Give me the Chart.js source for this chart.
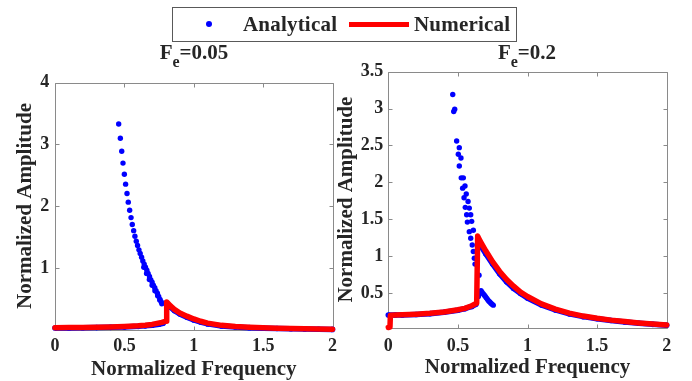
<!DOCTYPE html>
<html>
<head>
<meta charset="utf-8">
<script src="https://cdn.jsdelivr.net/npm/chart.js@4/dist/chart.umd.min.js"></script>
<style>
  body { margin: 0; background: #fff; }
  #wrap { position: relative; width: 692px; height: 381px; overflow: hidden;
          font-family: "Liberation Serif", "Times New Roman", serif; font-weight: bold; color: #262626; }
  canvas { position: absolute; top: 0; }
  .ttl { position: absolute; top: 42px; font-size: 21px; line-height: 21px; white-space: nowrap; transform: translateX(-50%); }
  .ttl sub { font-size: 16px; line-height: 0; vertical-align: -8px; }
  #legend { position: absolute; left: 172px; top: 7px; width: 343px; height: 33px; border: 1px solid #595959; background: #fff; }
  #legend span { position: absolute; }
  .lg-txt { top: 6px; font-size: 21px; line-height: 21px; white-space: nowrap; letter-spacing: 0.2px; }
</style>
</head>
<body>
<div id="wrap">
  <canvas id="chart-f05" width="346" height="381" style="left:0"></canvas>
  <canvas id="chart-f2" width="362" height="381" style="left:330px"></canvas>
  <div class="ttl" style="left:194px">F<sub>e</sub>=0.05</div>
  <div class="ttl" style="left:527px">F<sub>e</sub>=0.2</div>
  <div id="legend">
    <span style="left:33px;top:13px;width:6px;height:6px;border-radius:50%;background:#0000ff"></span>
    <span class="lg-txt" style="left:70px">Analytical</span>
    <span style="left:176px;top:14px;width:60px;height:5px;background:#ff0000"></span>
    <span class="lg-txt" style="left:241px">Numerical</span>
  </div>
</div>
<script>
// tick labels
const freqTicks = [0, 0.5, 1, 1.5, 2];
const ampTicksF05 = [1, 2, 3, 4];
const ampTicksF2 = [0.5, 1, 1.5, 2, 2.5, 3, 3.5];

// Fe = 0.05 : analytical, upper (sparse) branch
const f05DotFreq = [0.459, 0.471, 0.481, 0.490, 0.500, 0.509, 0.519, 0.528, 0.538, 0.548, 0.557, 0.567,
  0.576, 0.586, 0.595, 0.605, 0.614, 0.624, 0.633, 0.643, 0.652, 0.662, 0.671, 0.681, 0.690, 0.700,
  0.709, 0.719, 0.728, 0.738, 0.747, 0.757, 0.766, 0.640, 0.660, 0.680, 0.700, 0.720, 0.740, 0.755, 0.770];
const f05DotAmp = [3.33, 3.10, 2.89, 2.70, 2.52, 2.36, 2.21, 2.07, 1.94, 1.82, 1.71, 1.61,
  1.52, 1.44, 1.37, 1.30, 1.24, 1.18, 1.12, 1.07, 1.02, 0.97, 0.92, 0.87, 0.82, 0.78,
  0.73, 0.69, 0.64, 0.60, 0.55, 0.50, 0.46, 1.02, 0.92, 0.82, 0.73, 0.64, 0.56, 0.49, 0.43];
// Fe = 0.05 : analytical, lower and right branches
const f05LowFreq = [0, 0.1, 0.2, 0.3, 0.4, 0.5, 0.6, 0.65, 0.7, 0.75, 0.78];
const f05LowAmp = [0.04, 0.041, 0.043, 0.046, 0.05, 0.056, 0.066, 0.074, 0.085, 0.1, 0.115];
const f05HighFreq = [0.80, 0.83, 0.86, 0.9, 0.95, 1.0, 1.05, 1.1, 1.2, 1.3, 1.4, 1.5, 1.6, 1.7, 1.8, 1.9, 2.0];
const f05HighAmp = [0.44, 0.38, 0.32, 0.265, 0.215, 0.17, 0.135, 0.105, 0.072, 0.055, 0.045, 0.037, 0.031, 0.026, 0.022, 0.019, 0.017];
// Fe = 0.05 : numerical
const f05NumFreq = [0, 0.1, 0.2, 0.3, 0.4, 0.5, 0.6, 0.65, 0.7, 0.77, 0.80, 0.805, 0.83, 0.86, 0.9, 0.95,
  1.0, 1.05, 1.1, 1.2, 1.3, 1.4, 1.5, 1.6, 1.7, 1.8, 1.9, 2.0];
const f05NumAmp = [0.045, 0.046, 0.049, 0.052, 0.057, 0.064, 0.075, 0.084, 0.097, 0.13, 0.15, 0.46, 0.40, 0.34, 0.28, 0.23,
  0.185, 0.148, 0.118, 0.082, 0.062, 0.05, 0.042, 0.035, 0.03, 0.026, 0.022, 0.019];

// Fe = 0.2 : analytical, upper (sparse) branch and small caret branch
const f2DotFreq = [0.463, 0.477, 0.470, 0.491, 0.510, 0.503, 0.522, 0.510, 0.524, 0.539, 0.551, 0.534,
  0.560, 0.544, 0.573, 0.553, 0.582, 0.563, 0.592, 0.568, 0.599, 0.611, 0.582, 0.592, 0.603, 0.611,
  0.618, 0.623, 0.652,
  0.647, 0.653, 0.659, 0.666, 0.673, 0.681, 0.689, 0.697, 0.705, 0.713, 0.721, 0.729, 0.737, 0.745, 0.754];
const f2DotAmp = [3.19, 2.99, 2.96, 2.56, 2.47, 2.38, 2.33, 2.22, 2.06, 2.06, 1.95, 1.92,
  1.84, 1.79, 1.74, 1.66, 1.65, 1.56, 1.56, 1.46, 1.47, 1.35, 1.33, 1.24, 1.15, 1.06,
  0.97, 0.89, 0.74,
  0.45, 0.48, 0.51, 0.53, 0.51, 0.49, 0.47, 0.45, 0.43, 0.41, 0.39, 0.375, 0.36, 0.345, 0.333];
// Fe = 0.2 : analytical, lower and right branches
const f2LowFreq = [0, 0.05, 0.1, 0.2, 0.3, 0.4, 0.5, 0.55, 0.6, 0.63];
const f2LowAmp = [0.2, 0.2, 0.2, 0.207, 0.218, 0.236, 0.265, 0.285, 0.315, 0.345];
const f2HighFreq = [0.652, 0.66, 0.7, 0.75, 0.8, 0.85, 0.9, 0.95, 1.0, 1.1, 1.2, 1.3, 1.4, 1.5, 1.6, 1.7, 1.8, 1.9, 2.0];
const f2HighAmp = [1.18, 1.15, 1.03, 0.89, 0.76, 0.65, 0.56, 0.49, 0.43, 0.335, 0.268, 0.215, 0.177, 0.148, 0.124, 0.104, 0.087, 0.073, 0.06];
// Fe = 0.2 : numerical
const f2NumFreq = [0, 0.012, 0.015, 0.05, 0.1, 0.2, 0.3, 0.4, 0.5, 0.55, 0.6, 0.635, 0.642, 0.66, 0.7, 0.75,
  0.8, 0.85, 0.9, 0.95, 1.0, 1.1, 1.2, 1.3, 1.4, 1.5, 1.6, 1.7, 1.8, 1.9, 2.0];
const f2NumAmp = [0.03, 0.035, 0.195, 0.2, 0.202, 0.21, 0.222, 0.24, 0.27, 0.29, 0.325, 0.36, 1.27, 1.2, 1.07, 0.92,
  0.79, 0.68, 0.59, 0.51, 0.45, 0.35, 0.28, 0.225, 0.185, 0.155, 0.13, 0.11, 0.092, 0.077, 0.063];

const BLUE = '#0000ff';
const RED = '#ff0000';
const TEXT = '#262626';
const FONT = '"Liberation Serif", "Times New Roman", serif';

const pts = (xs, ys) => xs.map((x, i) => ({ x, y: ys[i] }));

// MATLAB-like box with inward ticks on all four sides
const boxPlugin = {
  id: 'matlabBox',
  beforeDatasetsDraw(chart) {
    const { ctx, chartArea: a, scales: { x, y } } = chart;
    const L = Math.round(a.left) + 0.5, R = Math.round(a.right) + 0.5;
    const T = Math.round(a.top) + 0.5, B = Math.round(a.bottom) + 0.5;
    ctx.save();
    ctx.strokeStyle = '#8a8a8a';
    ctx.lineWidth = 1;
    ctx.beginPath();
    ctx.rect(L, T, R - L, B - T);
    x.ticks.forEach(t => {
      const px = Math.round(x.getPixelForValue(t.value)) + 0.5;
      ctx.moveTo(px, B); ctx.lineTo(px, B - 4);
      ctx.moveTo(px, T); ctx.lineTo(px, T + 4);
    });
    y.ticks.forEach(t => {
      const py = Math.round(y.getPixelForValue(t.value)) + 0.5;
      ctx.moveTo(L, py); ctx.lineTo(L + 4, py);
      ctx.moveTo(R, py); ctx.lineTo(R - 4, py);
    });
    ctx.stroke();
    ctx.restore();
  }
};

function makeChart(id, cfg) {
  return new Chart(document.getElementById(id), {
    type: 'scatter',
    data: {
      datasets: [
        {
          label: 'Numerical',
          data: pts(cfg.numF, cfg.numA),
          showLine: true, borderColor: RED, borderWidth: 5.5,
          pointRadius: 0, borderJoinStyle: 'round', borderCapStyle: 'round',
          clip: false, order: 0
        },
        {
          label: 'Analytical branches',
          data: pts(cfg.lowF, cfg.lowA).concat([{ x: cfg.highF[0], y: null }], pts(cfg.highF, cfg.highA)),
          showLine: true, spanGaps: false, borderColor: BLUE, borderWidth: 5.5,
          pointRadius: 2.8, pointBackgroundColor: BLUE, pointBorderWidth: 0,
          clip: false, order: 1
        },
        {
          label: 'Analytical',
          data: pts(cfg.dotF, cfg.dotA),
          pointRadius: 2.7, pointBackgroundColor: BLUE, pointBorderWidth: 0,
          clip: false, order: 2
        }
      ]
    },
    plugins: [boxPlugin],
    options: {
      responsive: false,
      animation: false,
      devicePixelRatio: 1,
      layout: { padding: { top: cfg.top, right: cfg.right, left: 0, bottom: 0 } },
      plugins: { legend: { display: false }, tooltip: { enabled: false } },
      scales: {
        x: {
          type: 'linear', min: 0, max: 2,
          afterBuildTicks: s => { s.ticks = freqTicks.map(v => ({ value: v })); },
          afterFit: s => { s.height = cfg.xH; },
          grid: { display: false, drawTicks: false },
          border: { display: false },
          ticks: {
            color: TEXT, padding: cfg.xPad, maxRotation: 0, autoSkip: false,
            font: { family: FONT, size: 18, weight: 'bold', lineHeight: 1.2 },
            callback: v => String(v)
          },
          title: {
            display: true, text: 'Normalized Frequency', color: TEXT,
            font: { family: FONT, size: 21, weight: 'bold', lineHeight: 1 },
            padding: { top: 0, bottom: cfg.xTitlePad }
          }
        },
        y: {
          type: 'linear', min: cfg.yMin, max: cfg.yMax,
          afterBuildTicks: s => { s.ticks = cfg.yTicks.map(v => ({ value: v })); },
          afterFit: s => { s.width = cfg.yW; },
          grid: { display: false, drawTicks: false },
          border: { display: false },
          ticks: {
            color: TEXT, padding: cfg.yPad, autoSkip: false,
            font: { family: FONT, size: 18, weight: 'bold', lineHeight: 1.2 },
            callback: v => String(v)
          },
          title: {
            display: true, text: 'Normalized Amplitude', color: TEXT,
            font: { family: FONT, size: 21, weight: 'bold', lineHeight: 1 },
            padding: { top: cfg.yTitlePad, bottom: 0 }
          }
        }
      }
    }
  });
}

makeChart('chart-f05', {
  dotF: f05DotFreq, dotA: f05DotAmp,
  lowF: f05LowFreq, lowA: f05LowAmp, highF: f05HighFreq, highA: f05HighAmp,
  numF: f05NumFreq, numA: f05NumAmp,
  yMin: 0.015, yMax: 4, yTicks: ampTicksF05,
  top: 82.5, right: 13.5, xH: 51.5, yW: 55,
  xPad: 5.7, yPad: 5.7, xTitlePad: 0.8, yTitlePad: 15.5
});

makeChart('chart-f2', {
  dotF: f2DotFreq, dotA: f2DotAmp,
  lowF: f2LowFreq, lowA: f2LowAmp, highF: f2HighFreq, highA: f2HighAmp,
  numF: f2NumFreq, numA: f2NumAmp,
  yMin: 0.03, yMax: 3.5, yTicks: ampTicksF2,
  top: 71.7, right: 25.3, xH: 53.5, yW: 58.3,
  xPad: 8.5, yPad: 5, xTitlePad: 2.5, yTitlePad: 5.8
});
</script>
</body>
</html>
